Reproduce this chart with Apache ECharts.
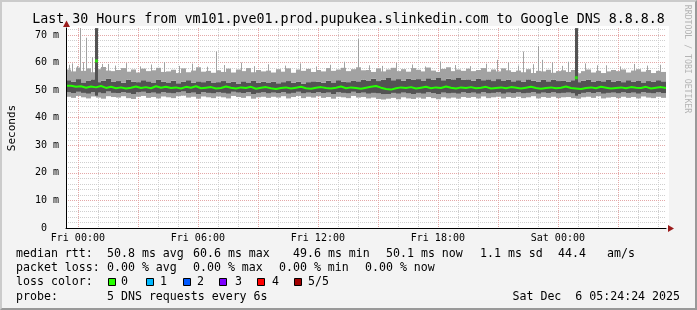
<!DOCTYPE html>
<html><head><meta charset="utf-8">
<script src="https://cdn.jsdelivr.net/npm/echarts@6/dist/echarts.min.js"></script>
<style>
html,body{margin:0;padding:0;background:#f3f3f3}
#wrap{position:relative;width:697px;height:310px}
#c{width:697px;height:310px}
#frame{position:absolute;left:0;top:0;width:697px;height:310px;box-sizing:border-box;border:2px solid;border-color:#cbcbcb #999 #999 #cbcbcb;pointer-events:none}
</style>
</head><body><div id="wrap"><div id="c"></div><div id="frame"></div></div>
<script>
// ---------- data ----------
const TITLE = 'Last 30 Hours from vm101.pve01.prod.pupukea.slinkedin.com to Google DNS 8.8.8.8';
const X_MIN = -0.5933;   // hours relative to Fri 00:00 (Thu 23:24:24)
const X_MAX = 29.4067;   // Sat 05:24:24
const BUCKET_H = 0.25;   // 15 minute buckets
const xTickHours = [0, 6, 12, 18, 24];
const xTickLabels = ['Fri 00:00', 'Fri 06:00', 'Fri 12:00', 'Fri 18:00', 'Sat 00:00'];
const xMajorHours = [0, 3, 6, 9, 12, 15, 18, 21, 24, 27];
const xMinorHours = [0,1,2,3,4,5,6,7,8,9,10,11,12,13,14,15,16,17,18,19,20,21,22,23,24,25,26,27,28,29];
const yTicks = [0, 10, 20, 30, 40, 50, 60, 70];
const yMinor = [2,4,6,8,12,14,16,18,22,24,26,28,32,34,36,38,42,44,46,48,52,54,56,58,62,64,66,68,72];
const Y_MAX = 72.54;

// lowest ping (ms)
const pingMin = [
47.6,47.2,47.9,47.4,47.0,47.7,47.3,46.9,47.8,47.5,
47.3,47.8,47.1,46.8,47.6,47.9,47.2,47.5,47.0,47.7,
47.4,47.1,47.8,48.0,47.3,47.6,46.9,47.7,47.4,47.1,
47.7,47.4,47.0,47.9,47.5,47.2,47.8,46.9,47.4,47.6,
47.2,47.6,47.3,47.8,47.0,47.5,47.9,47.1,47.6,47.3,
47.8,47.2,47.5,46.9,47.6,47.4,47.1,47.9,47.3,47.5,
47.0,47.3,46.8,46.6,46.9,47.2,46.7,47.4,47.0,46.8,
47.3,46.9,47.5,47.1,46.7,47.4,47.0,47.3,46.9,47.5,
47.2,47.5,47.0,47.7,47.1,47.4,47.6,47.0,47.5,47.2,
47.6,47.1,47.4,47.8,47.0,47.5,47.2,47.6,47.1,47.4,
47.5,47.1,46.9,47.4,47.6,47.2,47.8,47.0,47.3,47.5,
47.1,47.6,47.2,47.5,47.0,47.7,47.3,47.1,47.6,47.2];
// second ping
const pingLow = [
49.2,48.9,49.4,49.0,48.7,49.3,49.1,48.8,49.5,49.0,
48.9,49.3,49.0,48.6,49.2,49.4,48.9,49.1,48.7,49.3,
49.0,48.8,49.2,49.5,48.9,49.1,48.6,49.3,49.0,48.8,
49.2,49.0,48.7,49.4,49.1,48.9,49.3,48.6,49.0,49.2,
48.8,49.1,48.9,49.3,48.7,49.0,49.4,48.8,49.1,48.9,
49.3,48.9,49.1,48.6,49.2,49.0,48.8,49.4,48.9,49.1,
48.7,49.0,48.8,48.5,48.6,49.0,48.7,49.1,48.8,48.6,
49.0,48.7,49.2,48.9,48.6,49.1,48.8,49.0,48.7,49.2,
48.9,49.1,48.7,49.3,48.8,49.0,49.2,48.7,49.1,48.9,
49.2,48.8,49.0,49.3,48.7,49.1,48.9,49.2,48.8,49.0,
49.1,48.8,48.6,49.0,49.2,48.9,49.3,48.7,49.0,49.1,
48.8,49.2,48.9,49.1,48.7,49.3,49.0,48.8,49.2,48.9];
// median rtt
const pingMedian = [
51.6,51.2,51.4,50.9,51.3,51.0,51.5,50.8,51.2,50.7,
51.0,50.6,50.9,51.3,50.8,51.1,50.7,51.4,50.9,51.2,
50.8,51.0,50.6,51.2,50.9,51.4,50.7,50.9,51.1,50.6,
50.8,51.3,50.9,50.6,51.0,50.8,51.2,50.5,50.9,51.1,
50.7,50.4,50.8,51.0,50.6,50.9,51.2,50.7,50.5,50.9,
51.1,50.8,50.6,50.9,51.3,50.7,51.0,50.8,50.5,50.9,
51.2,51.5,50.9,50.4,50.2,50.7,51.0,50.8,51.1,50.6,
50.9,51.2,50.7,51.0,50.8,51.3,50.9,50.6,51.0,50.8,
51.1,50.7,50.9,51.2,50.6,50.8,51.0,50.7,51.1,50.9,
50.6,50.9,51.2,50.8,50.5,50.8,51.0,50.7,50.9,51.3,
50.8,50.6,50.4,50.8,51.0,50.7,51.2,50.9,50.6,50.8,
51.0,50.7,51.1,50.9,50.8,51.2,50.6,50.9,51.1,50.8];
// fourth ping
const pingHigh = [
53.6,53.1,54.0,52.8,53.5,53.9,52.9,53.4,54.2,53.0,
53.3,52.7,53.8,53.1,52.9,53.6,53.2,52.6,53.7,53.0,
52.8,53.4,52.5,53.1,53.6,52.7,53.2,52.9,53.5,52.6,
52.9,53.3,52.6,53.0,52.4,53.2,52.8,53.5,52.7,53.0,
52.6,53.1,52.5,52.9,53.3,52.7,53.0,52.4,52.9,53.2,
53.0,52.7,53.4,52.8,53.6,53.1,52.9,53.5,53.2,53.8,
53.5,54.1,53.3,53.8,54.4,53.6,54.0,53.4,54.2,53.7,
54.0,53.5,54.3,53.8,54.6,53.6,54.1,53.9,54.4,53.7,
53.9,53.4,54.2,53.6,53.9,53.3,54.0,53.5,53.8,53.2,
53.6,53.1,53.9,53.4,53.0,53.7,53.2,53.8,53.3,53.5,
53.1,53.6,52.9,53.4,53.8,53.0,53.5,53.2,53.7,53.1,
53.4,52.9,53.6,53.1,53.5,52.8,53.3,53.0,53.6,53.2];
// highest ping
const pingMax = [
57.5,56.8,58.2,57.0,57.9,56.5,57.6,58.4,57.1,56.9,
57.3,58.0,56.7,57.5,56.4,57.8,56.9,57.2,58.1,56.6,
56.8,57.4,56.2,57.9,56.5,57.1,58.3,56.7,57.0,56.3,
57.2,56.6,57.8,56.4,57.5,56.9,58.0,56.5,57.3,56.8,
57.1,56.4,57.6,56.7,57.9,56.3,57.5,57.0,57.7,56.6,
57.3,56.8,58.0,57.0,57.5,58.1,56.9,57.6,58.3,57.2,
57.3,56.6,57.9,56.8,57.5,58.1,56.9,57.6,56.7,58.0,
57.4,56.8,58.2,57.1,56.6,57.7,58.3,56.9,57.5,57.0,
57.8,56.9,57.3,58.0,56.7,57.5,56.8,57.9,57.2,56.6,
57.1,56.5,57.6,56.2,57.0,56.8,57.4,56.3,56.9,57.2,
56.6,57.3,56.1,56.9,57.5,56.4,57.0,56.2,56.8,57.3,
56.9,57.5,56.4,57.1,57.6,56.7,57.3,56.2,57.0,56.6];

// isolated single-ping spikes (hour, top ms)
const spikeHours = [-0.27, 0.11, 0.43, 0.73, 1.53, 6.92, 14.0, 20.98, 22.28, 23.0, 23.23, 24.53, 25.98,
  -0.45, -0.05, 0.28, 1.2, 1.85, 2.4, 3.1, 3.65, 4.3, 5.05, 5.7, 6.45, 7.3, 8.15, 8.8, 9.5, 10.35, 11.1,
  11.9, 12.6, 13.3, 14.55, 15.2, 15.9, 16.7, 17.35, 18.1, 18.85, 19.6, 20.4, 21.5, 22.0, 22.75, 23.7,
  24.2, 25.35, 26.4, 27.1, 27.8, 28.45, 29.1];
const spikeTops  = [59.7, 72.5, 69.0, 62.0, 59.5, 64.0, 68.5, 61.0, 64.0, 66.0, 61.0, 60.3, 59.0,
  59.2, 58.7, 60.1, 59.5, 58.9, 59.8, 58.6, 59.3, 60.2, 58.8, 59.6, 58.5, 59.1, 60.0, 58.7, 59.4, 58.9, 59.7,
  58.6, 59.2, 60.3, 59.0, 58.8, 59.9, 59.3, 58.6, 60.4, 59.1, 58.7, 59.6, 60.0, 58.9, 59.4, 60.1,
  58.8, 59.7, 59.0, 58.6, 59.5, 58.9, 59.2];
// intervals where the whole smoke jumped (hour, top ms, median ms)
const burstHours   = [0.93, 24.92];
const burstTops    = [72.5, 72.5];
const burstMedians = [60.6, 54.5];

const medianStats = ['50.8 ms avg', '60.6 ms max', '49.6 ms min', '50.1 ms now', '1.1 ms sd', '44.4', 'am/s'];
const lossStats = ['0.00 % avg', '0.00 % max', '0.00 % min', '0.00 % now'];
const lossLabels = ['0', '1', '2', '3', '4', '5/5'];
const lossColors = ['#26ff00', '#00b8ff', '#0059ff', '#7e00ff', '#ff0000', '#a10000'];
const probeText = '5 DNS requests every 6s';
const stampText = 'Sat Dec  6 05:24:24 2025';

// ---------- layout ----------
const MONO = '"DejaVu Sans Mono", monospace';
const LEG_FONT = 11.6;
const medianCols = [107, 193, 293, 386, 480, 558, 607];
const lossCols = [107, 193, 279, 365];
const boxCols = [108, 146, 183, 219, 257, 294];
const boxLabelCols = [121, 160, 197, 235, 272, 308];
const rowY = [254, 268, 282, 297];
const LIGHT = '#a2a2a2', DARK = '#535353';

function stepData(vals) {
  const d = vals.map((v, i) => [X_MIN + i * BUCKET_H, v]);
  d.push([X_MAX, vals[vals.length - 1]]);
  return d;
}
// one row per bucket: start, end, min, low, high, max
const smokeRows = pingMin.map((v, i) => [X_MIN + i * BUCKET_H, X_MIN + (i + 1) * BUCKET_H, v, pingLow[i], pingHigh[i], pingMax[i]]);

function renderSmoke(params, api) {
  const x0 = api.value(0), x1 = api.value(1);
  const pts = [api.value(2), api.value(3), api.value(4), api.value(5)].map(v => api.coord([x0, v])[1]);
  const left = api.coord([x0, 0])[0], right = api.coord([x1, 0])[0];
  const band = (yb, yt, c) => ({type: 'rect', shape: {x: left, y: yt, width: right - left, height: yb - yt}, style: {fill: c}});
  return {type: 'group', children: [band(pts[0], pts[1], LIGHT), band(pts[1], pts[2], DARK), band(pts[2], pts[3], LIGHT)]};
}

function txt(x, y, s, extra) {
  return Object.assign({type: 'text', x: x, y: y, silent: true,
    style: Object.assign({text: s, font: LEG_FONT + 'px ' + MONO, fill: '#000', align: 'left', verticalAlign: 'middle'}, extra || {})});
}
const graphics = [
  {type: 'rect', z: -10, silent: true, shape: {x: 66, y: 26, width: 603, height: 202}, style: {fill: '#fff'}},
  txt(348.5, 19.5, TITLE, {font: '13.3px ' + MONO, align: 'center'}),
  {type: 'text', x: 687, y: 59, rotation: -Math.PI / 2, silent: true,
   style: {text: 'RRDTOOL / TOBI OETIKER', font: '8.2px ' + MONO, fill: '#b4b4b4', align: 'center', verticalAlign: 'middle'}},
  {type: 'polygon', z: 20, silent: true, shape: {points: [[668, 225], [674, 228.5], [668, 232]]}, style: {fill: '#9b1c1c'}},
  {type: 'polygon', z: 20, silent: true, shape: {points: [[63, 27], [66.5, 20.5], [70, 27]]}, style: {fill: '#9b1c1c'}},
  txt(16, rowY[0], 'median rtt:'),
  txt(16, rowY[1], 'packet loss:'),
  txt(16, rowY[2], 'loss color:'),
  txt(16, rowY[3], 'probe:'),
  txt(107, rowY[3], probeText),
  txt(680, rowY[3], stampText, {align: 'right'})
];
medianStats.forEach((s, i) => graphics.push(txt(medianCols[i], rowY[0], s)));
lossStats.forEach((s, i) => graphics.push(txt(lossCols[i], rowY[1], s)));
lossLabels.forEach((s, i) => {
  graphics.push({type: 'rect', silent: true, shape: {x: boxCols[i] + 0.5, y: rowY[2] - 3.5, width: 7, height: 7},
    style: {fill: lossColors[i], stroke: '#000', lineWidth: 1}});
  graphics.push(txt(boxLabelCols[i], rowY[2], s));
});

const chart = echarts.init(document.getElementById('c'), null, {renderer: 'canvas'});
chart.setOption({
  animation: false,
  backgroundColor: '#f3f3f3',
  grid: {left: 66, top: 28, width: 600, height: 200, show: false, containLabel: false, outerBoundsMode: 'none'},
  xAxis: [
    {type: 'value', min: X_MIN, max: X_MAX, position: 'bottom', z: 1,
     axisLine: {show: false, onZero: false},
     axisTick: {show: false, customValues: xMajorHours},
     axisLabel: {customValues: xTickHours, formatter: v => xTickLabels[xTickHours.indexOf(v)],
                 fontFamily: MONO, fontSize: 10, color: '#000', margin: 5},
     splitLine: {show: true, lineStyle: {color: '#e4a8a8', width: 1, type: [1, 1]}}},
    {type: 'value', min: X_MIN, max: X_MAX, position: 'bottom', z: 0,
     axisLine: {show: false, onZero: false}, axisLabel: {show: false},
     axisTick: {show: false, customValues: xMinorHours},
     splitLine: {show: true, lineStyle: {color: '#cfcfcf', width: 1, type: [1, 1]}}},
    {type: 'value', min: X_MIN, max: X_MAX, position: 'bottom', z: 10,
     axisLine: {show: true, onZero: false, lineStyle: {color: '#000', width: 1}},
     axisTick: {show: false}, axisLabel: {show: false}, splitLine: {show: false}}
  ],
  yAxis: [
    {type: 'value', min: 0, max: Y_MAX, position: 'left', z: 1,
     name: 'Seconds', nameLocation: 'middle', nameGap: 48,
     nameTextStyle: {fontFamily: MONO, fontSize: 11, color: '#000'},
     axisLine: {show: false, onZero: false},
     axisTick: {show: false, customValues: yTicks},
     axisLabel: {customValues: yTicks, formatter: v => v === 0 ? '0  ' : v + ' m',
                 fontFamily: MONO, fontSize: 10, color: '#000', margin: 7},
     splitLine: {show: true, lineStyle: {color: '#e4a8a8', width: 1, type: [1, 1]}}},
    {type: 'value', min: 0, max: Y_MAX, position: 'left', z: 0,
     axisLine: {show: false, onZero: false}, axisLabel: {show: false},
     axisTick: {show: false, customValues: yMinor},
     splitLine: {show: true, lineStyle: {color: '#cfcfcf', width: 1, type: [1, 1]}}},
    {type: 'value', min: 0, max: Y_MAX, position: 'left', z: 10,
     axisLine: {show: true, onZero: false, lineStyle: {color: '#000', width: 1}},
     axisTick: {show: false}, axisLabel: {show: false}, splitLine: {show: false}}
  ],
  series: [
    {name: 'smoke', type: 'custom', silent: true, z: 2, renderItem: renderSmoke,
     encode: {x: [0, 1], y: [2, 3, 4, 5]}, data: smokeRows, clip: true},
    {name: 'spikes', type: 'line', silent: true, symbol: 'none', data: [], z: 3,
     markLine: {silent: true, symbol: ['none', 'none'], label: {show: false}, animation: false, z: 3,
       data: spikeHours.map((h, i) => [{coord: [h, 55], lineStyle: {color: LIGHT, width: 1, type: 'solid'}},
                                       {coord: [h, spikeTops[i]]}])
         .concat(burstHours.map((h, i) => [{coord: [h, 48], lineStyle: {color: DARK, width: 3, type: 'solid'}},
                                            {coord: [h, burstTops[i]]}]))}},
    {name: 'median', type: 'line', step: 'end', symbol: 'none', silent: true, z: 4,
     data: stepData(pingMedian), lineStyle: {color: '#26ff00', width: 2}},
    {name: 'burstMedian', type: 'scatter', silent: true, z: 8, symbol: 'rect', symbolSize: [3, 3],
     data: burstHours.map((h, i) => [h, burstMedians[i]]), itemStyle: {color: '#26ff00'}}
  ],
  graphic: graphics
});
</script>
</body></html>
